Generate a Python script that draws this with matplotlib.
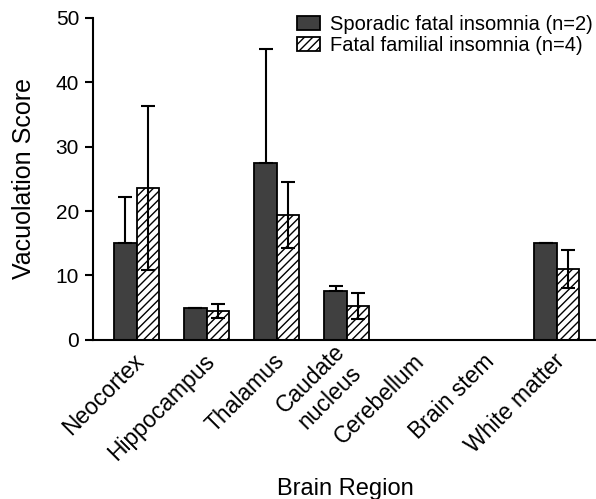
import matplotlib
matplotlib.use("Agg")
import matplotlib.pyplot as plt
import matplotlib.transforms as mtransforms
import numpy as np

plt.rcParams["font.family"] = ["Liberation Sans", "DejaVu Sans"]
plt.rcParams["hatch.linewidth"] = 1.0

regioes = ["Neocortex", "Hippocampus", "Thalamus", "Caudate\nnucleus",
           "Cerebellum", "Brain stem", "White matter"]
esporadica = [15.1, 5.0, 27.5, 7.6, np.nan, np.nan, 15.1]
esporadica_err = [7.1, 0.0, 17.7, 0.8, np.nan, np.nan, 0.0]
familiar = [23.6, 4.5, 19.4, 5.3, np.nan, np.nan, 11.0]
familiar_err = [12.7, 1.1, 5.1, 2.0, np.nan, np.nan, 3.0]

x = np.arange(len(regioes))
w = 0.32

fig = plt.figure(figsize=(5.96, 4.99), dpi=100)
ax = fig.add_axes([0.156, 0.319, 0.844, 0.645])

ax.bar(x - w / 2, esporadica, width=w, color="#404040", edgecolor="black",
       linewidth=1.3, label="Sporadic fatal insomnia (n=2)", zorder=2)
ax.bar(x + w / 2, familiar, width=w, color="white", edgecolor="black",
       linewidth=1.3, hatch="////", label="Fatal familial insomnia (n=4)", zorder=2)
ax.errorbar(x - w / 2, esporadica, yerr=[np.zeros(len(x)), esporadica_err],
            fmt="none", ecolor="black", elinewidth=1.5, capsize=5, capthick=1.5, zorder=3)
ax.errorbar(x + w / 2, familiar, yerr=familiar_err,
            fmt="none", ecolor="black", elinewidth=1.5, capsize=5, capthick=1.5, zorder=3)

ax.set_xlim(-0.624, 6.56)
ax.set_ylim(0, 50)
ax.set_yticks([0, 10, 20, 30, 40, 50])
ax.tick_params(axis="y", labelsize=15, width=1.5, length=6, direction="out", pad=4)
ax.tick_params(axis="x", length=0, labelsize=16.5, pad=0)
ax.set_xticks(x)
ax.set_xticklabels(regioes, rotation=45, ha="right", va="center",
                   rotation_mode="anchor", multialignment="center")
desloc = mtransforms.ScaledTranslation(4 / 100, -18 / 100, fig.dpi_scale_trans)
for lbl in ax.get_xticklabels():
    lbl.set_transform(lbl.get_transform() + desloc)
for s in ("top", "right"):
    ax.spines[s].set_visible(False)
ax.spines["left"].set_linewidth(1.5)
ax.spines["bottom"].set_linewidth(1.5)

ax.set_ylabel("Vacuolation Score", fontsize=18)
ax.yaxis.set_label_coords(-0.113, 0.5)
fig.text(0.579, 0.008, "Brain Region", fontsize=17, ha="center", va="baseline")

ax.legend(loc="upper left", bbox_to_anchor=(297 / 596, 1 - 15 / 499),
          bbox_transform=fig.transFigure, frameon=False, fontsize=14.5,
          handlelength=1.15, handleheight=0.7, handletextpad=0.5, labelspacing=0.1,
          borderpad=0, borderaxespad=0)

fig.savefig("out.png", dpi=100)
